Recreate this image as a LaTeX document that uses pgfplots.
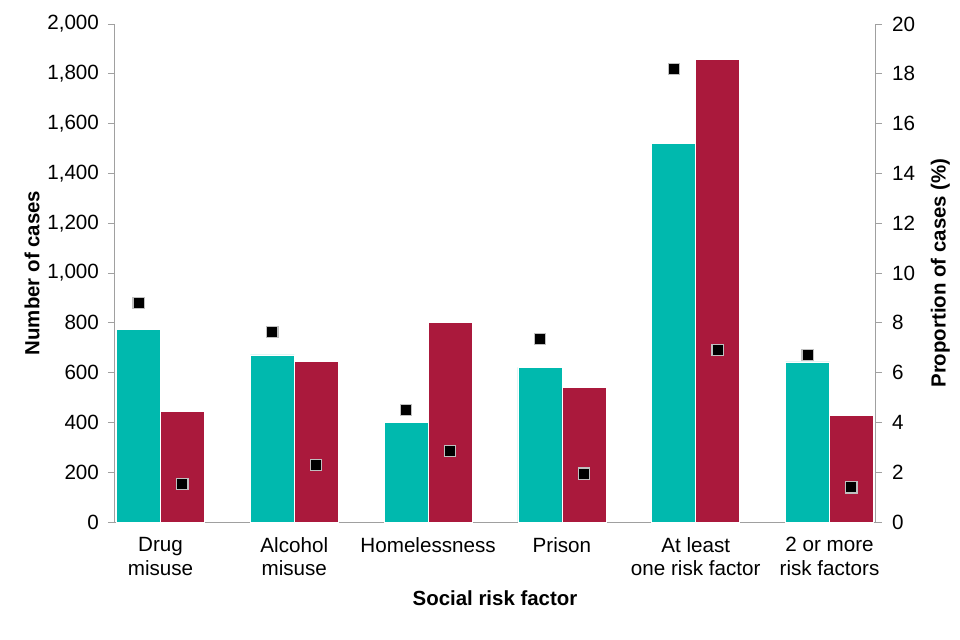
\documentclass[border=0pt]{standalone}
\usepackage{fontspec}
\setmainfont{Liberation Sans}
\usepackage{pgfplots}
\pgfplotsset{compat=1.18}
\definecolor{teal1}{RGB}{0,185,174}
\definecolor{crim}{RGB}{170,25,60}
\definecolor{axgray}{RGB}{160,160,160}
\begin{document}
\fontsize{20.7}{24}\selectfont
\begin{tikzpicture}
\useasboundingbox (-115bp,-118bp) rectangle (845bp,522bp);
\pgfplotsset{
  common/.style={
    scale only axis, width=760bp, height=498bp,
    at={(0,0)}, anchor=south west,
    xmin=-0.34, xmax=5.34,
    tick align=outside, major tick length=7bp,
    every tick/.style={axgray, line width=0.8bp},
    axis line style={axgray, line width=1bp},
    /pgf/number format/assume math mode=true,
    /pgf/number format/1000 sep={,},
    scaled y ticks=false,
    tick label style={font=\fontsize{20.7}{24}\selectfont},
    label style={font=\fontsize{20.5}{24}\selectfont\bfseries},
  }
}
\begin{axis}[common,
  axis x line*=bottom, axis y line*=left,
  ymin=0, ymax=2000, ytick={0,200,...,2000},
  yticklabel style={xshift=-2bp},
  xtick={0,1,2,3,4,5},
  xticklabels={Drug\\misuse, Alcohol\\misuse, Homelessness, Prison, At least\\one risk factor, 2 or more\\risk factors},
  xticklabel style={align=center, yshift=-1bp},
  x tick style={draw=none},
  ybar=0pt, bar width=44bp,
  ylabel={Number of cases},
  ylabel style={at={(axis description cs:-0.109,0.5)}, anchor=center},
  xlabel={Social risk factor},
  xlabel style={at={(axis description cs:0.5,-0.153)}, anchor=center},
]
\addplot[fill=teal1, draw=white, line width=0.6bp] coordinates {(0,775) (1,671) (2,400) (3,621) (4,1522) (5,643)};
\addplot[fill=crim, draw=white, line width=0.6bp] coordinates {(0,443) (1,644) (2,802) (3,539) (4,1858) (5,428)};
\end{axis}
\begin{axis}[common,
  axis x line=none, axis y line*=right,
  ymin=0, ymax=20, ytick={0,2,...,20},
  yticklabel style={xshift=3bp},
  ylabel={Proportion of cases (\%)},
  ylabel style={at={(axis description cs:1.086,0.5)}, anchor=center},
]
\addplot[only marks, mark=square*, mark size=5.6bp, mark options={fill=black, draw=black!25, line width=1.2bp}]
  coordinates {(-0.164,8.8) (0.836,7.62) (1.836,4.5) (2.836,7.34) (3.836,18.2) (4.836,6.71)};
\addplot[only marks, mark=square*, mark size=5.6bp, mark options={fill=black, draw=black!25, line width=1.2bp}]
  coordinates {(0.164,1.53) (1.164,2.28) (2.164,2.84) (3.164,1.94) (4.164,6.91) (5.164,1.39)};
\end{axis}
\end{tikzpicture}
\end{document}
